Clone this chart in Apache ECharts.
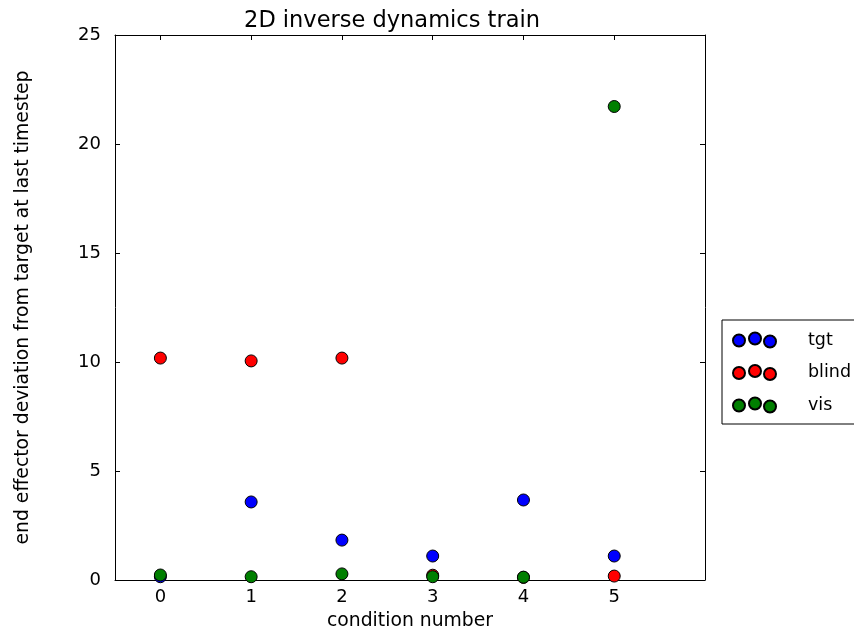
<!DOCTYPE html>
<html>
<head>
    <meta charset="utf-8">
    <title>2D inverse dynamics train</title>
    <script src="https://cdn.jsdelivr.net/npm/echarts@6/dist/echarts.min.js"></script>
    <style>
        html, body { margin: 0; padding: 0; background: #fff; }
        #main { width: 854px; height: 633px; }
    </style>
</head>
<body>
<div id="main"></div>

<script>
    // condition numbers on x
    var conditions = [0, 1, 2, 3, 4, 5];
    // deviation per condition
    var tgtValues   = [0.15, 3.58, 1.83, 1.10, 3.67, 1.10];
    var blindValues = [10.18, 10.05, 10.18, 0.22, 0.12, 0.18];
    var visValues   = [0.23, 0.15, 0.28, 0.15, 0.13, 21.72];
    var yTicks = [0, 5, 10, 15, 20, 25];

    var font = 'DejaVu Sans';
    // three little dots like the matplotlib legend (scatterpoints=3)
    var threeDots = 'path://M0,8a6,6 0 1,0 12,0a6,6 0 1,0 -12,0z' +
        'M16,6a6,6 0 1,0 12,0a6,6 0 1,0 -12,0z' +
        'M31,9a6,6 0 1,0 12,0a6,6 0 1,0 -12,0z';

    function pairs(vals){
        return conditions.map(function(c, i){ return [c, vals[i]]; });
    }

    function dots(name, color, vals){
        return {
            name: name,
            type: 'scatter',
            data: pairs(vals),
            symbolSize: 12,
            itemStyle: { color: color, borderColor: '#000', borderWidth: 1, opacity: 1 },
            emphasis: { disabled: true }
        };
    }

    var tickStyle = { show: true, inside: true, length: 5, lineStyle: { color: '#000' } };

    var option = {
        animation: false,
        backgroundColor: '#fff',
        title: {
            text: '2D inverse dynamics train',
            left: 387,
            textAlign: 'center',
            top: 5,
            textStyle: { fontFamily: font, fontWeight: 'normal', fontSize: 22.5, color: '#000' }
        },
        legend: {
            orient: 'vertical',
            left: 722,
            top: 320,
            width: 150,
            padding: [11, 40, 10, 10],
            itemGap: 14.5,
            itemWidth: 43,
            itemHeight: 15,
            icon: threeDots,
            borderColor: '#000',
            borderWidth: 1,
            borderRadius: 0,
            textStyle: { fontFamily: font, fontSize: 17.5, color: '#000', padding: [0, 0, 0, 27] },
            data: ['tgt', 'blind', 'vis']
        },
        grid: { left: 115, right: 149, top: 35, bottom: 53, containLabel: false, outerBoundsMode: 'none' },
        xAxis: [{
            type: 'value',
            min: -0.5,
            max: 6,
            name: 'condition number',
            nameLocation: 'middle',
            nameGap: 32,
            nameTextStyle: { fontFamily: font, fontSize: 18.8, color: '#000' },
            axisLine: { show: true, onZero: false, lineStyle: { color: '#000' } },
            axisTick: Object.assign({ customValues: conditions }, tickStyle),
            axisLabel: { customValues: conditions, fontFamily: font, fontSize: 18, color: '#000', margin: 8 },
            splitLine: { show: false }
        }, {
            type: 'value',
            position: 'top',
            min: -0.5,
            max: 6,
            axisLine: { show: true, onZero: false, lineStyle: { color: '#000' } },
            axisTick: Object.assign({ customValues: conditions }, tickStyle),
            axisLabel: { show: false },
            splitLine: { show: false }
        }],
        yAxis: [{
            type: 'value',
            min: yTicks[0],
            max: yTicks[yTicks.length - 1],
            interval: 5,
            name: 'end effector deviation from target at last timestep',
            nameLocation: 'middle',
            nameGap: 82,
            nameTextStyle: { fontFamily: font, fontSize: 18.8, color: '#000' },
            axisLine: { show: true, onZero: false, lineStyle: { color: '#000' } },
            axisTick: tickStyle,
            axisLabel: { fontFamily: font, fontSize: 18, color: '#000', margin: 14 },
            splitLine: { show: false }
        }, {
            type: 'value',
            position: 'right',
            min: yTicks[0],
            max: yTicks[yTicks.length - 1],
            interval: 5,
            axisLine: { show: true, onZero: false, lineStyle: { color: '#000' } },
            axisTick: tickStyle,
            axisLabel: { show: false },
            splitLine: { show: false }
        }],
        series: [
            dots('tgt', '#0000ff', tgtValues),
            dots('blind', '#ff0000', blindValues),
            dots('vis', '#007f00', visValues)
        ]
    };

    echarts.init(document.getElementById('main')).setOption(option);
</script>
</body>
</html>
